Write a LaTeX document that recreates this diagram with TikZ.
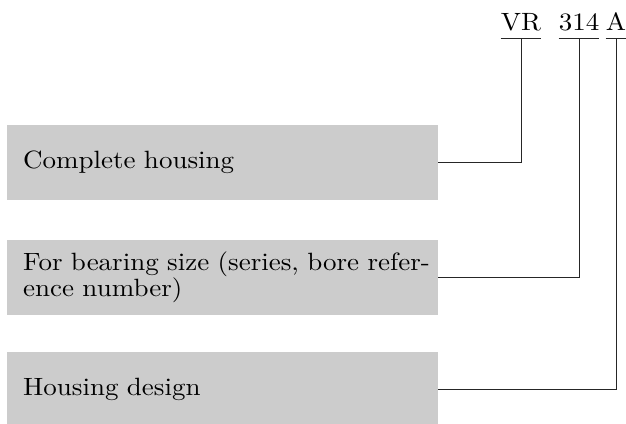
\documentclass[tikz,border=0pt]{standalone}
\usepackage{tikz}
\usepackage{fontspec}
\setmainfont{lmroman10-regular.otf}[FakeStretch=1.08]
\usetikzlibrary{positioning}
\tikzstyle{field} = [fill=black!20, rectangle, anchor=north west, minimum height=75pt, minimum width=431pt, text width=399pt, inner xsep=16pt, align=left, font=\fontsize{25}{26}\selectfont]
\tikzstyle{code} = [inner sep=0pt, text depth=8pt, anchor=base, font=\fontsize{25}{26}\selectfont]
\tikzstyle{link} = [draw=black!85, line width=1pt]

\begin{document}
\begin{tikzpicture}[x=1pt, y=-1pt]
 \useasboundingbox (0,0) rectangle (626,423);
 % nodes
    \node [code, name=vr] at (521,30) {VR};
    \node [code, name=size] at (579,30) {314};
    \node [code, name=design] at (616,30) {A};
    \node [field, name=complete] at (7,125) {Complete housing};
    \node [field, name=bearing] at (7,240) {\mbox{For bearing size (series, bore refer-}\\ence number)};
    \node [field, name=housing] at (7,352) {Housing design};
    % edges
    \draw [link] (vr.south west) -- (vr.south east);
    \draw [link] (size.south west) -- (size.south east);
    \draw [link] (design.south west) -- (design.south east);
    \draw [link] (complete.east) -| (vr.south);
    \draw [link] (bearing.east) -| (size.south);
    \draw [link] (housing.east) -| (design.south);
\end{tikzpicture}
\end{document}
